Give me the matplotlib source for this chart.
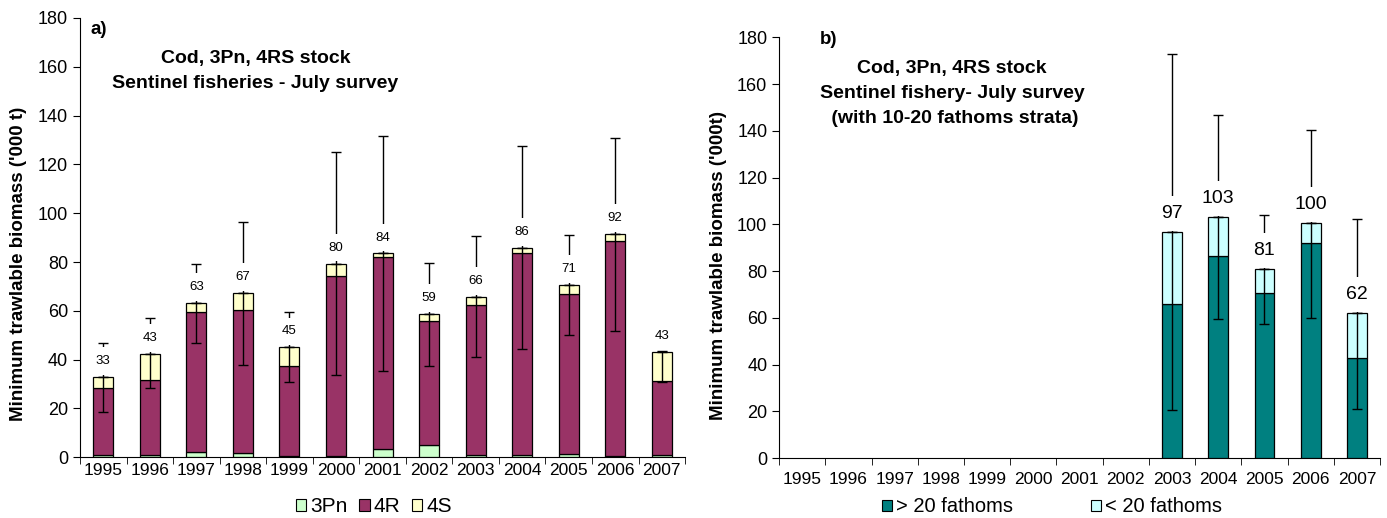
import numpy as np
import matplotlib
matplotlib.use("Agg")
import matplotlib.pyplot as plt
from matplotlib.patches import Patch

plt.rcParams['font.family'] = ['Liberation Sans', 'DejaVu Sans']

years = [str(y) for y in range(1995, 2008)]

# panel a) stacked by area
a_3pn = [1.0, 1.0, 2.0, 1.7, 0.5, 0.5, 3.4, 4.9, 1.0, 1.0, 1.5, 0.5, 1.0]
a_4r = [27.2, 30.8, 57.7, 58.8, 36.9, 73.8, 78.5, 51.1, 61.6, 82.9, 65.2, 88.2, 30.1]
a_4s = [4.7, 10.6, 3.6, 6.8, 7.6, 5.1, 1.6, 2.6, 3.1, 1.9, 4.0, 2.9, 12.0]
a_labels = [33, 43, 63, 67, 45, 80, 84, 59, 66, 86, 71, 92, 43]
a_low = [18.6, 28.2, 46.9, 38.0, 30.7, 33.9, 35.4, 37.5, 41.0, 44.5, 50.2, 51.6, 31.0]
a_high = [46.8, 57.1, 79.4, 96.6, 59.7, 125.0, 131.5, 79.8, 90.6, 127.5, 91.0, 131.0, 43.5]

# panel b) only 2003-2007
b_years = ["2003", "2004", "2005", "2006", "2007"]
b_gt20 = [65.8, 86.5, 70.5, 91.9, 42.8]
b_lt20 = [30.8, 16.5, 10.3, 8.6, 19.3]
b_labels = [97, 103, 81, 100, 62]
b_low = [20.6, 59.4, 57.3, 59.9, 21.2]
b_high = [172.7, 146.6, 104.0, 140.2, 102.4]

c3pn, c4r, c4s = "#ccffcc", "#993366", "#ffffcc"
cgt, clt = "#008080", "#ccffff"

fig = plt.figure(figsize=(13.87, 5.18), dpi=100)
axa = fig.add_axes([0.0577, 0.1172, 0.4362, 0.8481])
axb = fig.add_axes([0.5617, 0.1153, 0.4333, 0.8127])


def style_axis(ax, pad):
	ax.spines['top'].set_visible(False)
	ax.spines['right'].set_visible(False)
	ax.set_xlim(-0.5, len(years) - 0.5)
	ax.set_ylim(0, 180)
	ax.set_yticks(np.arange(0, 181, 20))
	ax.set_xticks(np.arange(len(years)))
	ax.set_xticklabels(years)
	ax.set_xticks(np.arange(len(years) + 1) - 0.5, minor=True)
	ax.tick_params(axis='x', which='major', length=0, pad=pad, labelsize=12.5)
	ax.tick_params(axis='x', which='minor', length=5, direction='out')
	ax.tick_params(axis='y', length=5, direction='out', labelsize=13)


def err_and_labels(ax, xs, tot, low, high, labels, fs, off, pad):
	# lower half over the bars, upper half under the white label box
	tot = np.array(tot)
	ax.errorbar(xs, tot, yerr=[tot - np.array(low), np.zeros(len(tot))], fmt='none',
		ecolor='black', elinewidth=1, capsize=3.5, capthick=1, zorder=4)
	ax.errorbar(xs, tot, yerr=[np.zeros(len(tot)), np.array(high) - tot], fmt='none',
		ecolor='black', elinewidth=1, capsize=3.5, capthick=1, zorder=2)
	for xi, t, lab in zip(xs, tot, labels):
		ax.annotate(str(lab), (xi, t), xytext=(0, off), textcoords='offset points',
			ha='center', va='center', fontsize=fs, zorder=2.5,
			bbox=dict(boxstyle='square,pad=%.2f' % pad, fc='white', ec='none'))


x = np.arange(len(years))
w = 0.43
edge = dict(edgecolor='black', linewidth=0.9, zorder=3)

#a)
bot = np.array(a_3pn)
axa.bar(x, a_3pn, w, color=c3pn, label="3Pn", **edge)
axa.bar(x, a_4r, w, bottom=bot, color=c4r, label="4R", **edge)
bot = bot + np.array(a_4r)
axa.bar(x, a_4s, w, bottom=bot, color=c4s, label="4S", **edge)
tot = bot + np.array(a_4s)
err_and_labels(axa, x, tot, a_low, a_high, a_labels, 9.5, 11.5, 0.6)
style_axis(axa, 4)
axa.set_ylabel("Minimum trawlable biomass ('000 t)", fontsize=13.5, fontweight='bold')
axa.yaxis.set_label_coords(-0.088, 0.44)
axa.text(0.018, 0.973, "a)", transform=axa.transAxes, fontsize=13.5, fontweight='bold', va='center')
axa.text(0.29, 0.88, "Cod, 3Pn, 4RS stock\nSentinel fisheries - July survey",
	transform=axa.transAxes, fontsize=14, fontweight='bold', ha='center', va='center',
	linespacing=1.62)
fig.legend(handles=[Patch(facecolor=c, edgecolor='black', linewidth=0.8, label=l)
	for c, l in [(c3pn, "3Pn"), (c4r, "4R"), (c4s, "4S")]],
	loc='center', bbox_to_anchor=(374 / 1387, 1 - 507 / 518), ncol=3, frameon=False,
	fontsize=15, handlelength=0.5, handleheight=0.5, handletextpad=0.2,
	columnspacing=0.55, borderpad=0)

#b)
xb = np.array([years.index(y) for y in b_years])
axb.bar(xb, b_gt20, w, color=cgt, label="> 20 fathoms", **edge)
axb.bar(xb, b_lt20, w, bottom=b_gt20, color=clt, label="< 20 fathoms", **edge)
totb = np.array(b_gt20) + np.array(b_lt20)
err_and_labels(axb, xb, totb, b_low, b_high, b_labels, 14, 13.5, 0.45)
style_axis(axb, 10)
axb.set_ylabel("Minimum trawlable biomass ('000t)", fontsize=13.5, fontweight='bold')
axb.yaxis.set_label_coords(-0.0865, 0.459)
axb.text(0.068, 0.994, "b)", transform=axb.transAxes, fontsize=13.5, fontweight='bold', va='center')
axb.text(0.288, 0.866, "Cod, 3Pn, 4RS stock\nSentinel fishery- July survey\n (with 10-20 fathoms strata)",
	transform=axb.transAxes, fontsize=14, fontweight='bold', ha='center', va='center',
	linespacing=1.62)
fig.legend(handles=[Patch(facecolor=c, edgecolor='black', linewidth=0.8, label=l)
	for c, l in [(cgt, "> 20 fathoms"), (clt, "< 20 fathoms")]],
	loc='center', bbox_to_anchor=(1052 / 1387, 1 - 507 / 518), ncol=2, frameon=False,
	fontsize=14.5, handlelength=0.5, handleheight=0.5, handletextpad=0.2,
	columnspacing=3.9, borderpad=0)

fig.savefig("out.png", dpi=100)
